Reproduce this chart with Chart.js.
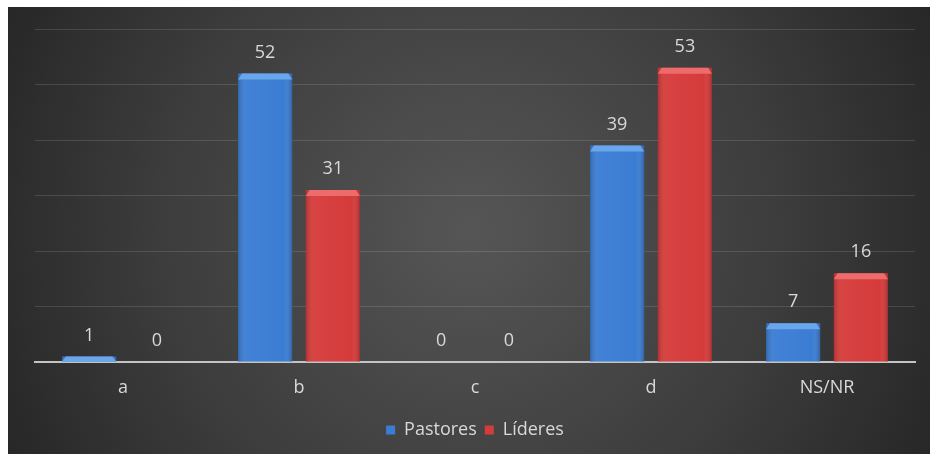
<!DOCTYPE html>
<html>
<head>
<meta charset="utf-8">
<script src="https://cdn.jsdelivr.net/npm/chart.js@4"></script>
<style>
  html, body { margin: 0; padding: 0; background: #fff; }
  canvas { display: block; }
</style>
</head>
<body>
<canvas id="chart" width="930" height="454"></canvas>
<script>
// data
const categories = ['a', 'b', 'c', 'd', 'NS/NR'];
const pastores = [1, 52, 0, 39, 7];
const lideres = [0, 31, 0, 53, 16];
const yMax = 60;
const yStep = 10;

const textColor = '#d9d9d9';
const fontFamily = '"Open Sans", "Noto Sans", sans-serif';

// dark panel with soft radial light in the middle
const panelBg = {
  id: 'panelBg',
  beforeDraw(chart) {
    const c = chart.ctx;
    c.save();
    c.fillStyle = '#fff';
    c.fillRect(0, 0, chart.width, chart.height);
    const g = c.createRadialGradient(470, 230, 10, 470, 230, 560);
    g.addColorStop(0, '#555555');
    g.addColorStop(0.55, '#3c3c3c');
    g.addColorStop(1, '#222222');
    c.fillStyle = g;
    c.fillRect(8, 7, chart.width - 8, chart.height - 7);
    c.restore();
  }
};

// bevel shading + value labels on top of the bars
const barExtras = {
  id: 'barExtras',
  afterDatasetsDraw(chart) {
    const c = chart.ctx;
    c.save();
    chart.data.datasets.forEach((ds, i) => {
      const meta = chart.getDatasetMeta(i);
      meta.data.forEach((bar, j) => {
        const left = bar.x - bar.width / 2;
        const h = bar.base - bar.y;
        if (h > 1) {
          const side = c.createLinearGradient(left, 0, left + bar.width, 0);
          side.addColorStop(0, 'rgba(0,0,0,0.18)');
          side.addColorStop(0.15, 'rgba(255,255,255,0.04)');
          side.addColorStop(0.85, 'rgba(255,255,255,0.0)');
          side.addColorStop(1, 'rgba(0,0,0,0.22)');
          c.fillStyle = side;
          c.fillRect(left, bar.y, bar.width, h);
          const capH = Math.min(6, h);
          c.fillStyle = ds.capColor;
          c.beginPath();
          c.moveTo(left, bar.y + capH);
          c.lineTo(left + 4, bar.y);
          c.lineTo(left + bar.width - 4, bar.y);
          c.lineTo(left + bar.width, bar.y + capH);
          c.closePath();
          c.fill();
        }
        c.fillStyle = textColor;
        c.font = '18px ' + fontFamily;
        c.textAlign = 'center';
        c.textBaseline = 'middle';
        c.fillText(ds.data[j], bar.x, bar.y - 21);
      });
    });
    c.restore();
  }
};

new Chart(document.getElementById('chart'), {
  type: 'bar',
  data: {
    labels: categories,
    datasets: [
      { label: 'Pastores', data: pastores, backgroundColor: '#3b7dd4', capColor: '#6aa6ec',
        categoryPercentage: 0.77, barPercentage: 0.8 },
      { label: 'Líderes', data: lideres, backgroundColor: '#d63b3b', capColor: '#ee6b6b',
        categoryPercentage: 0.77, barPercentage: 0.8 }
    ]
  },
  options: {
    responsive: false,
    animation: false,
    layout: { padding: { left: 35, right: 15, top: 29, bottom: 5 } },
    plugins: {
      legend: {
        position: 'bottom',
        labels: {
          color: textColor,
          font: { size: 18, family: fontFamily },
          boxWidth: 9,
          boxHeight: 9,
          padding: 8
        }
      },
      tooltip: { enabled: false }
    },
    scales: {
      x: {
        grid: { display: false, drawTicks: false },
        border: { color: '#c4c4c4', width: 2 },
        ticks: { color: textColor, font: { size: 18, family: fontFamily }, padding: 15 },
        afterFit(scale) { scale.height = 51; }
      },
      y: {
        min: 0,
        max: yMax,
        ticks: { display: false, stepSize: yStep },
        grid: { color: 'rgba(255,255,255,0.13)', drawTicks: false },
        border: { display: false }
      }
    }
  },
  plugins: [panelBg, barExtras]
});
</script>
</body>
</html>
